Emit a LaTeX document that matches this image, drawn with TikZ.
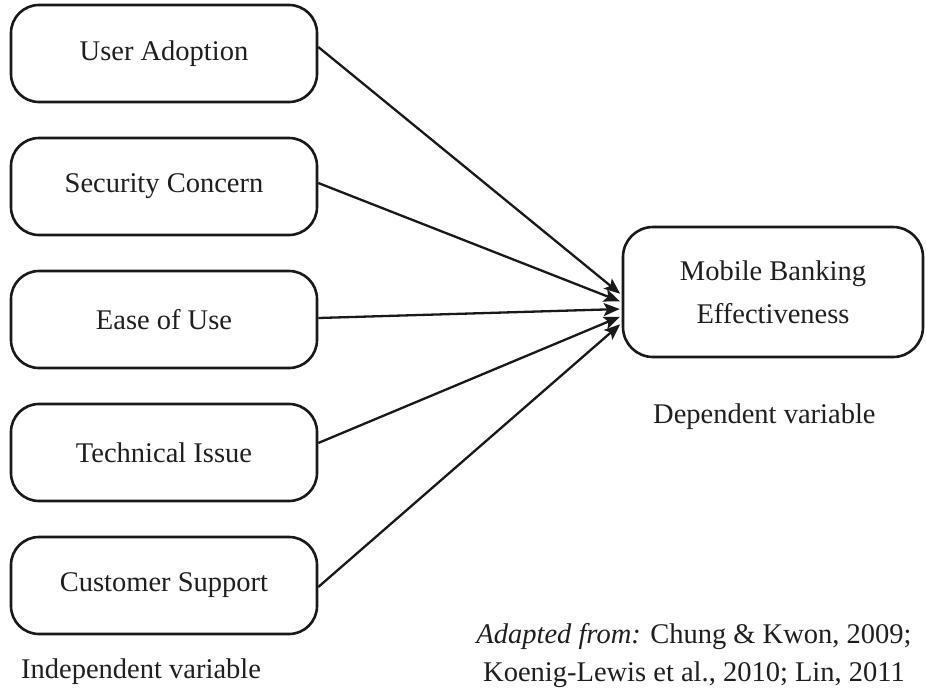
\documentclass[tikz,border=0pt]{standalone}
\usepackage{fontspec}
\setmainfont{Liberation Serif}
\usetikzlibrary{arrows.meta,calc}
\begin{document}
\begin{tikzpicture}[x=1pt,y=-1pt,
  ivbox/.style={draw=black!90, line width=2.6pt, rounded corners=28pt,
    minimum width=306pt, minimum height=97pt, inner sep=0pt,
    font=\fontsize{28.5}{34}\selectfont, text=black!88},
  dvbox/.style={draw=black!90, line width=2.6pt, rounded corners=30pt,
    minimum width=300pt, minimum height=130pt, inner sep=0pt, align=center,
    font=\fontsize{28.5}{43}\selectfont, text=black!88},
  lbl/.style={inner sep=0pt, font=\fontsize{28.5}{34}\selectfont, text=black!88},
  link/.style={draw=black!90, line width=2.3pt, shorten >=2pt,
    -{Stealth[length=16pt,width=13pt,inset=3.5pt]}}
]
\useasboundingbox (0,0) rectangle (926,688);

\node[ivbox] (ua) at (164,53.5) {User Adoption};
\node[ivbox] (sc) at (164,186.5) {Security Concern};
\node[ivbox] (eu) at (164,319.5) {Ease of Use};
\node[ivbox] (ti) at (164,452.5) {Technical Issue};
\node[ivbox] (cs) at (164,585.5) {Customer Support};

\node[dvbox] (mb) at (773,292) {Mobile Banking\\Effectiveness};

\draw[link] ($(ua.east)+(0,-6.5)$) -- ($(mb.west)+(0,3)$);
\draw[link] ($(sc.east)+(0,-3.5)$) -- ($(mb.west)+(0,10)$);
\draw[link] ($(eu.east)+(0,-1.5)$) -- ($(mb.west)+(0,17)$);
\draw[link] ($(ti.east)+(0,-9.5)$) -- ($(mb.west)+(0,24)$);
\draw[link] ($(cs.east)+(0,1.5)$) -- ($(mb.west)+(0,31)$);

\node[lbl, anchor=base west] (iv) at (21,678) {Independent variable};
\node[lbl, anchor=base west] (dv) at (653,423) {Dependent variable};
\node[lbl, anchor=base] (src1) at (694,643) {\textit{Adapted from:} Chung \& Kwon, 2009;};
\node[lbl, anchor=base] (src2) at (694,681) {Koenig-Lewis et al., 2010; Lin, 2011};
\end{tikzpicture}
\end{document}
